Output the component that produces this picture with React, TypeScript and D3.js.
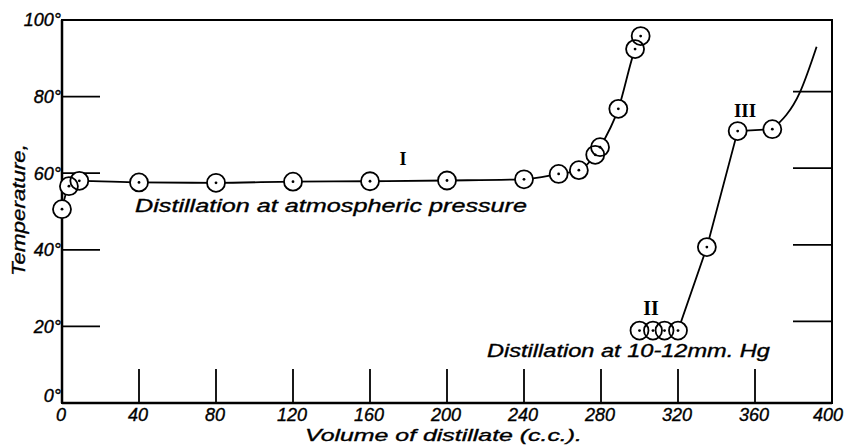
import React, { useEffect, useRef } from 'react';
import * as d3 from 'd3';

// Curve I: distillation at atmospheric pressure (observed points)
const volI = [0, 3.6, 9, 40, 80, 120, 160, 200, 240, 258, 268.5, 277, 279.5, 289, 297.7, 300.6];
const tempI = [50.6, 56.6, 58, 57.6, 57.5, 57.8, 57.9, 58.1, 58.4, 59.8, 60.8, 64.8, 66.8, 76.8, 92.4, 95.8];

// Curves II / III: distillation at 10-12 mm Hg (observed points)
const volII = [300, 307, 313, 320, 335, 351, 369];
const tempII = [18.9, 18.9, 18.9, 18.9, 40.7, 71, 71.5];
// where the drawn curve carries on past the last circle
const volTail = [369, 383.5, 392];
const tempTail = [71.5, 81.3, 93];

const xTicks = [0, 40, 80, 120, 160, 200, 240, 280, 320, 360, 400];
const yTicks = [0, 20, 40, 60, 80, 100];
const innerTicksX = [40, 80, 120, 160, 200, 240, 280, 320, 360];
const innerTicksY = [20, 40, 60, 80];

const W = 844;
const H = 446;
const sans = '"Liberation Sans", Arial, sans-serif';
const serif = '"Liberation Serif", "Times New Roman", serif';

type Pt = { v: number; t: number };

export default function App() {
    const svgRef = useRef<SVGSVGElement>(null);

    useEffect(() => {
        if (!svgRef.current) return;
        const svg = d3.select(svgRef.current);
        svg.selectAll('*').remove();

        const x = d3.scaleLinear().domain([0, 400]).range([62, 832]);
        const y = d3.scaleLinear().domain([0, 100]).range([403, 20]);

        const ptsI: Pt[] = volI.map((v, i) => ({ v, t: tempI[i] }));
        const ptsII: Pt[] = volII.map((v, i) => ({ v, t: tempII[i] }));
        const tail: Pt[] = volTail.map((v, i) => ({ v, t: tempTail[i] }));

        // frame
        svg.append('rect')
            .attr('x', x(0)).attr('y', y(100))
            .attr('width', x(400) - x(0)).attr('height', y(0) - y(100))
            .attr('fill', 'none').attr('stroke', '#000').attr('stroke-width', 2);
        svg.append('line')
            .attr('x1', x(0)).attr('x2', x(400)).attr('y1', y(0)).attr('y2', y(0))
            .attr('stroke', '#000').attr('stroke-width', 2.5);
        svg.append('line')
            .attr('x1', x(0)).attr('x2', x(0)).attr('y1', y(0)).attr('y2', y(100))
            .attr('stroke', '#000').attr('stroke-width', 2.5);

        // inner ticks: bottom (pointing up), left and right (pointing in)
        innerTicksX.forEach(d => {
            svg.append('line')
                .attr('x1', x(d)).attr('x2', x(d)).attr('y1', y(0)).attr('y2', y(0) - 34)
                .attr('stroke', '#000').attr('stroke-width', 1.8);
        });
        innerTicksY.forEach(d => {
            svg.append('line')
                .attr('x1', x(0)).attr('x2', x(0) + 38).attr('y1', y(d)).attr('y2', y(d))
                .attr('stroke', '#000').attr('stroke-width', 1.8);
            svg.append('line')
                .attr('x1', x(400) - 39).attr('x2', x(400)).attr('y1', y(d) - 5).attr('y2', y(d) - 5)
                .attr('stroke', '#000').attr('stroke-width', 1.8);
        });

        const italic = (sel: any, size: number) => sel
            .style('font-family', sans).style('font-style', 'italic').style('font-size', `${size}px`)
            .attr('fill', '#000').attr('stroke', '#000').attr('stroke-width', 0.35);

        // tick labels
        italic(svg.append('g').selectAll('text').data(xTicks).join('text')
            .attr('x', d => (d === 400 ? x(d) - 4 : x(d) - 1)).attr('y', y(0) + 18)
            .attr('text-anchor', 'middle'), 18)
            .text(d => d);
        italic(svg.append('g').selectAll('text').data(yTicks).join('text')
            .attr('x', x(0) - 1).attr('y', d => (d === 0 ? y(d) - 7 : y(d))).attr('dy', '0.36em')
            .attr('text-anchor', 'end'), 18)
            .text(d => `${d}°`);

        // axis titles
        italic(svg.append('text')
            .attr('x', 305).attr('y', 441)
            .attr('textLength', 277).attr('lengthAdjust', 'spacingAndGlyphs'), 17)
            .text('Volume of distillate (c.c.).');
        italic(svg.append('text')
            .attr('transform', 'translate(25,276) rotate(-90)')
            .attr('textLength', 132).attr('lengthAdjust', 'spacingAndGlyphs'), 19)
            .text('Temperature,');

        // curves
        const smooth = d3.line<Pt>().x(d => x(d.v)).y(d => y(d.t)).curve(d3.curveMonotoneX);
        const straight = d3.line<Pt>().x(d => x(d.v)).y(d => y(d.t));
        svg.append('path').datum(ptsI).attr('d', smooth)
            .attr('fill', 'none').attr('stroke', '#000').attr('stroke-width', 1.8);
        svg.append('path').datum(ptsII).attr('d', straight)
            .attr('fill', 'none').attr('stroke', '#000').attr('stroke-width', 1.8);
        svg.append('path').datum(tail).attr('d', smooth)
            .attr('fill', 'none').attr('stroke', '#000').attr('stroke-width', 1.8);

        // circles: white discs mask the line, then rings and centre dots
        const all = [...ptsI, ...ptsII];
        svg.append('g').selectAll('circle').data(all).join('circle')
            .attr('cx', d => x(d.v)).attr('cy', d => y(d.t)).attr('r', 9)
            .attr('fill', '#fff');
        svg.append('g').selectAll('circle').data(all).join('circle')
            .attr('cx', d => x(d.v)).attr('cy', d => y(d.t)).attr('r', 9)
            .attr('fill', 'none').attr('stroke', '#000').attr('stroke-width', 1.8);
        svg.append('g').selectAll('circle').data(all).join('circle')
            .attr('cx', d => x(d.v)).attr('cy', d => y(d.t)).attr('r', 1.4)
            .attr('fill', '#000');

        // labels
        svg.append('text')
            .attr('x', 403).attr('y', 165).attr('text-anchor', 'middle')
            .style('font-family', serif).style('font-weight', 'bold').style('font-size', '18px')
            .text('I');
        svg.append('text')
            .attr('x', 651).attr('y', 315).attr('text-anchor', 'middle')
            .style('font-family', serif).style('font-weight', 'bold').style('font-size', '20px')
            .text('II');
        svg.append('text')
            .attr('x', 745).attr('y', 117).attr('text-anchor', 'middle')
            .style('font-family', serif).style('font-weight', 'bold').style('font-size', '19px')
            .text('III');
        italic(svg.append('text')
            .attr('x', 135).attr('y', 212)
            .attr('textLength', 392).attr('lengthAdjust', 'spacingAndGlyphs'), 18)
            .text('Distillation at atmospheric pressure');
        italic(svg.append('text')
            .attr('x', 487).attr('y', 357)
            .attr('textLength', 283).attr('lengthAdjust', 'spacingAndGlyphs'), 18)
            .text('Distillation at 10-12mm. Hg');
    }, []);

    return (
        <svg
            ref={svgRef}
            width={W}
            height={H}
            style={{ position: 'absolute', left: 0, top: 0, background: '#fff' }}
        />
    );
}
